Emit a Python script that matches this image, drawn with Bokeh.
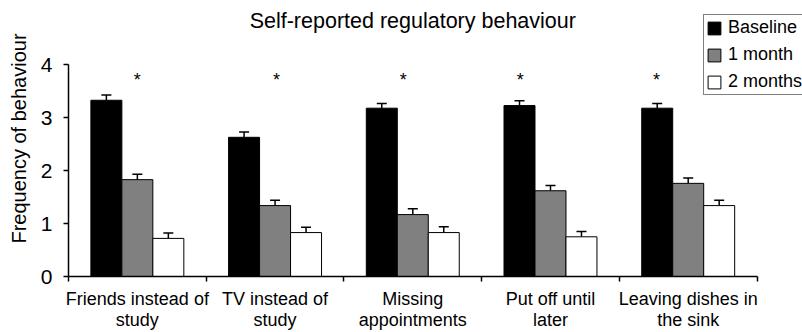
from bokeh.plotting import figure
from bokeh.models import (Range1d, FixedTicker, ColumnDataSource, Whisker, TeeHead,
                          Legend, LegendItem, Label)
from bokeh.core.properties import value
from bokeh.embed import file_html
from bokeh.resources import INLINE

# ---------------- data ----------------
categories = ["Friends instead of\nstudy", "TV instead of\nstudy", "Missing\nappointments",
              "Put off until\nlater", "Leaving dishes in\nthe sink"]
series_names = ["Baseline", "1 month", "2 months"]
baseline = [3.33, 2.63, 3.18, 3.23, 3.18]
one_month = [1.83, 1.34, 1.17, 1.62, 1.76]
two_months = [0.72, 0.83, 0.83, 0.75, 1.34]
baseline_se = [0.10, 0.10, 0.09, 0.09, 0.09]
one_month_se = [0.10, 0.10, 0.11, 0.10, 0.10]
two_months_se = [0.10, 0.10, 0.11, 0.10, 0.10]
y_ticks = [0, 1, 2, 3, 4]
star_x = [0.50, 1.51, 2.43, 3.28, 4.27]
star_y = 3.72
title_text = "Self-reported regulatory behaviour"
y_label = "Frequency of behaviour"

# ---------------- style ----------------
FONT = "Liberation Sans"
colors = ["#000000", "#808080", "#ffffff"]
bw = 0.225
n = len(categories)
X_END = 5.33      # frame extends to the right edge (legend overlaps it)
Y_END = 5.215     # frame extends to the top edge (title / legend inside it)

p = figure(width=802, height=332, x_range=Range1d(0, X_END), y_range=Range1d(y_ticks[0], Y_END),
           output_backend="svg", toolbar_location=None, title=None,
           min_border_left=68, min_border_right=0, min_border_top=0, min_border_bottom=53)
p.outline_line_color = None
p.xgrid.visible = False
p.ygrid.visible = False
p.background_fill_color = "white"
p.border_fill_color = "white"

renderers = []
for k, (vals, se, col) in enumerate(zip([baseline, one_month, two_months],
                                        [baseline_se, one_month_se, two_months_se], colors)):
    xs = [i + 0.5 + (k - 1) * bw for i in range(n)]
    src = ColumnDataSource(dict(x=xs, top=vals, lower=vals,
                                upper=[v + s for v, s in zip(vals, se)]))
    r = p.vbar(x="x", top="top", bottom=0, width=bw, source=src,
               fill_color=col, line_color="black", line_width=1)
    renderers.append(r)
    w = Whisker(source=src, base="x", upper="upper", lower="lower", dimension="height",
                line_color="black", line_width=1.5,
                upper_head=TeeHead(size=10, line_color="black", line_width=1.5),
                lower_head=None)
    p.add_layout(w)

# asterisks
p.text(x=star_x, y=[star_y] * len(star_x), text=["*"] * len(star_x),
       text_align="center", text_baseline="middle",
       text_font=value(FONT), text_font_size="18px", text_color="black")

# title
p.add_layout(Label(x=n / 2, y=y_ticks[-1], y_offset=44, text=title_text,
                   text_align="center", text_baseline="middle",
                   text_font=FONT, text_font_size="21.5px", text_color="black"))

# x axis
centers = [i + 0.5 for i in range(n)]
p.xaxis.bounds = (0, n)
p.xaxis.ticker = FixedTicker(ticks=centers, minor_ticks=list(range(n + 1)))
p.xaxis.major_label_overrides = {c: lab for c, lab in zip(centers, categories)}
p.xaxis.major_tick_out = 0
p.xaxis.major_tick_in = 0
p.xaxis.minor_tick_out = 5
p.xaxis.minor_tick_in = 0
p.xaxis.minor_tick_line_color = "black"
p.xaxis.minor_tick_line_width = 1.5
p.xaxis.axis_line_color = "black"
p.xaxis.axis_line_width = 1.5
p.xaxis.major_label_text_font = FONT
p.xaxis.major_label_text_font_size = "18px"
p.xaxis.major_label_text_color = "black"
p.xaxis.major_label_text_line_height = 1.05
p.xaxis.major_label_standoff = 7
p.xaxis.major_label_orientation = "horizontal"

# y axis
p.yaxis.bounds = (y_ticks[0], y_ticks[-1])
p.yaxis.ticker = FixedTicker(ticks=y_ticks, minor_ticks=[])
p.yaxis.major_tick_out = 5
p.yaxis.major_tick_in = 0
p.yaxis.major_tick_line_color = "black"
p.yaxis.major_tick_line_width = 1.5
p.yaxis.axis_line_color = "black"
p.yaxis.axis_line_width = 1.5
p.yaxis.major_label_text_font = FONT
p.yaxis.major_label_text_font_size = "21px"
p.yaxis.major_label_text_color = "black"
p.yaxis.major_label_standoff = 11
p.yaxis.axis_label = y_label
p.yaxis.axis_label_text_font = FONT
p.yaxis.axis_label_text_font_size = "20px"
p.yaxis.axis_label_text_font_style = "normal"
p.yaxis.axis_label_text_color = "black"
p.yaxis.axis_label_standoff = 8

# legend
legend = Legend(items=[LegendItem(label=nm, renderers=[r]) for nm, r in zip(series_names, renderers)],
                location=(635, 181), orientation="vertical",
                border_line_color="black", border_line_width=1,
                background_fill_color="white", background_fill_alpha=1.0,
                label_text_font=FONT, label_text_font_size="18px", label_text_color="black",
                glyph_width=16, glyph_height=16, label_height=20, label_standoff=6,
                spacing=6, padding=2, margin=0)
p.add_layout(legend)

open("out.html", "w").write(file_html(p, INLINE))
